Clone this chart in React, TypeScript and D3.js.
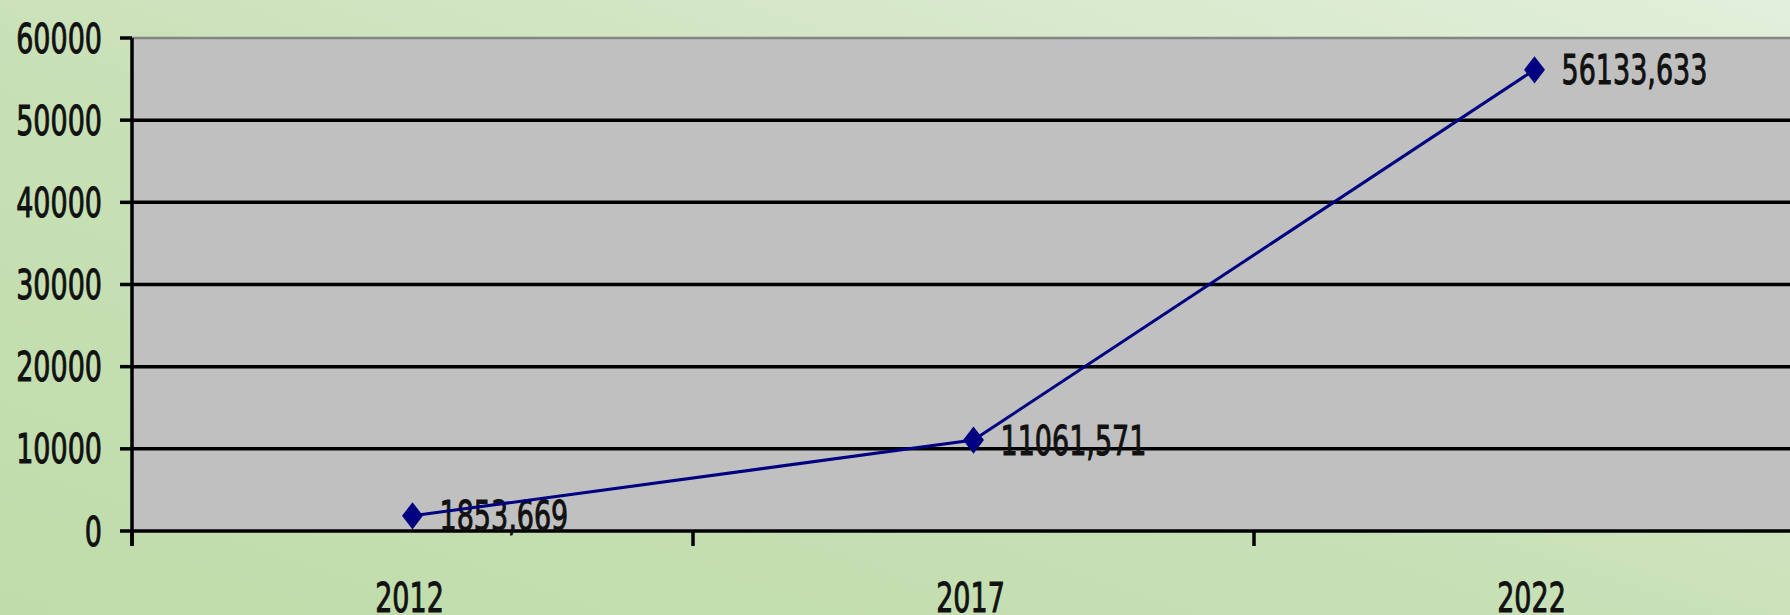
import React, { useEffect, useRef } from 'react';
import * as d3 from 'd3';

const years = ['2012', '2017', '2022'];
const values = [1853.669, 11061.571, 56133.633];
const valueLabels = ['1853,669', '11061,571', '56133,633'];
const yTicks = [0, 10000, 20000, 30000, 40000, 50000, 60000];

const WIDTH = 1790;
const HEIGHT = 615;

function App() {
  const svgRef = useRef<SVGSVGElement>(null);

  useEffect(() => {
    if (!svgRef.current) return;
    const svg = d3.select(svgRef.current);
    svg.selectAll('*').remove();

    const font = "'DejaVu Sans', Tahoma, sans-serif";
    const stretch = 'scale(1,1.5)';

    // text look shared by every label
    const styleText = (sel: any) => sel
      .style('font-family', font)
      .style('font-size', '27px')
      .style('fill', '#111')
      .style('stroke', '#111')
      .style('stroke-width', 0.7);

    // background gradient
    const defs = svg.append('defs');
    const grad = defs.append('linearGradient')
      .attr('id', 'bg')
      .attr('x1', 0).attr('y1', 1)
      .attr('x2', 1).attr('y2', 0);
    grad.append('stop').attr('offset', '0%').attr('stop-color', '#bfdcaa');
    grad.append('stop').attr('offset', '45%').attr('stop-color', '#c8e0b6');
    grad.append('stop').attr('offset', '100%').attr('stop-color', '#e2efdb');

    svg.append('rect')
      .attr('width', WIDTH)
      .attr('height', HEIGHT)
      .attr('fill', 'url(#bg)');

    const x = d3.scaleBand<string>()
      .domain(years)
      .range([132, 132 + 561 * 3])
      .padding(0);

    const y = d3.scaleLinear()
      .domain([0, 60000])
      .range([531, 38]);

    const x0 = x.range()[0];

    // plot area
    svg.append('rect')
      .attr('x', x0)
      .attr('y', y(60000))
      .attr('width', WIDTH - x0)
      .attr('height', y(0) - y(60000))
      .attr('fill', '#c0c0c0');

    // gridlines
    svg.append('g')
      .selectAll('line')
      .data(yTicks.filter(t => t > 0))
      .enter().append('line')
      .attr('x1', x0)
      .attr('x2', WIDTH)
      .attr('y1', d => y(d))
      .attr('y2', d => y(d))
      .attr('stroke', d => (d === 60000 ? '#858585' : '#000'))
      .attr('stroke-width', d => (d === 60000 ? 2.5 : 3.5));

    // y ticks
    svg.append('g')
      .selectAll('line')
      .data(yTicks)
      .enter().append('line')
      .attr('x1', 120)
      .attr('x2', x0)
      .attr('y1', d => y(d))
      .attr('y2', d => y(d))
      .attr('stroke', '#000')
      .attr('stroke-width', 3.5);

    // y tick labels
    svg.append('g')
      .selectAll('text')
      .data(yTicks)
      .enter().append('text')
      .attr('transform', d => `translate(102,${y(d)}) ${stretch}`)
      .attr('dy', '0.36em')
      .attr('text-anchor', 'end')
      .call(styleText)
      .text(d => String(d));

    // x axis line + ticks
    svg.append('line')
      .attr('x1', x0)
      .attr('x2', WIDTH)
      .attr('y1', y(0))
      .attr('y2', y(0))
      .attr('stroke', '#000')
      .attr('stroke-width', 3.5);

    const boundaries = years.map(d => x(d) || 0);
    svg.append('g')
      .selectAll('line')
      .data(boundaries)
      .enter().append('line')
      .attr('x1', d => d)
      .attr('x2', d => d)
      .attr('y1', y(0))
      .attr('y2', y(0) + 15)
      .attr('stroke', '#000')
      .attr('stroke-width', 3.5);

    // y axis line
    svg.append('line')
      .attr('x1', x0)
      .attr('x2', x0)
      .attr('y1', y(60000))
      .attr('y2', y(0) + 15)
      .attr('stroke', '#000')
      .attr('stroke-width', 3.5);

    const cx = (d: string) => (x(d) || 0) + x.bandwidth() / 2;

    // category labels
    svg.append('g')
      .selectAll('text')
      .data(years)
      .enter().append('text')
      .attr('transform', d => `translate(${cx(d) - 3},612) ${stretch}`)
      .attr('text-anchor', 'middle')
      .call(styleText)
      .text(d => d);

    // data labels
    svg.append('g')
      .selectAll('text')
      .data(years)
      .enter().append('text')
      .attr('transform', (d, i) => `translate(${cx(d) + 27},${y(values[i])}) ${stretch}`)
      .attr('dy', '0.36em')
      .attr('text-anchor', 'start')
      .call(styleText)
      .text((d, i) => valueLabels[i]);

    // series line
    const line = d3.line<number>()
      .x((d, i) => cx(years[i]))
      .y(d => y(d));

    svg.append('path')
      .datum(values)
      .attr('d', line)
      .attr('fill', 'none')
      .attr('stroke', '#000080')
      .attr('stroke-width', 3);

    // markers
    const diamond = d3.symbol().type(d3.symbolDiamond2).size(280);
    svg.append('g')
      .selectAll('path')
      .data(values)
      .enter().append('path')
      .attr('transform', (d, i) => `translate(${cx(years[i])},${y(d)}) scale(1,1.3)`)
      .attr('d', diamond)
      .attr('fill', '#000080');
  }, []);

  return (
    <svg
      ref={svgRef}
      width={WIDTH}
      height={HEIGHT}
      style={{ position: 'fixed', left: 0, top: 0, display: 'block' }}
    />
  );
}

export default App;
